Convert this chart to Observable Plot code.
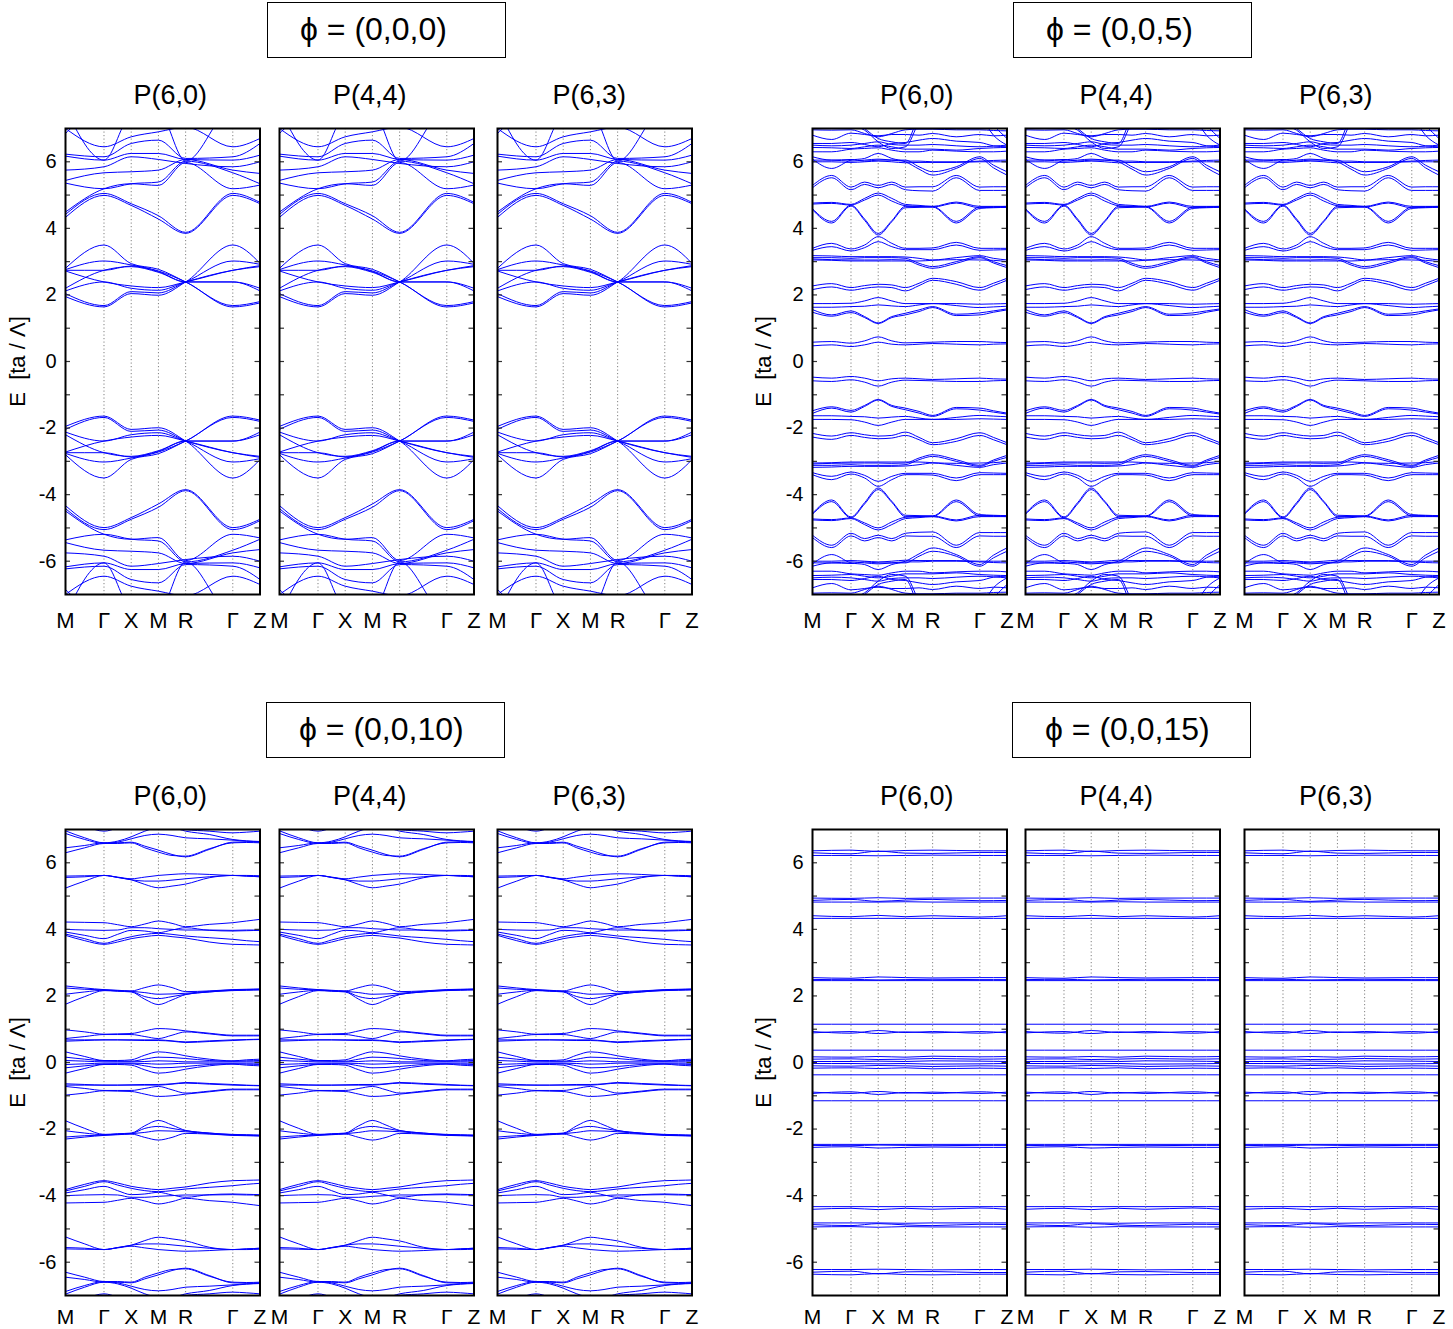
<!DOCTYPE html>
<html><head><meta charset="utf-8">
<script src="https://cdn.jsdelivr.net/npm/d3@7"></script>
<script src="https://cdn.jsdelivr.net/npm/@observablehq/plot@0.6"></script>
<style>
body{margin:0;background:#fff;font-family:"Liberation Sans",Arial,Helvetica,"DejaVu Sans",sans-serif;}
#root{position:relative;width:1453px;height:1329px;overflow:hidden;}
.box{position:absolute;border:1.5px solid #000;box-sizing:border-box;}
.lbl{position:absolute;white-space:nowrap;color:#000;line-height:1;}
svg{overflow:visible;}
</style></head><body><div id="root"></div>
<script>
// ---------- data ----------
const kPoints = [0, 1.414, 2.414, 3.414, 4.414, 6.146, 7.146];
const kGrid = [0, 0.707, 1.414, 1.914, 2.414, 2.914, 3.414, 3.914, 4.414, 5.28, 6.146, 6.646, 7.146];
const kLabels = ["M", "Γ", "X", "M", "R", "Γ", "Z"];
const yTickLabels = [-6, -4, -2, 0, 2, 4, 6];
const yTickMarks = [-6, -5, -4, -3, -2, -1, 0, 1, 2, 3, 4, 5, 6];
const panelNames = ["P(6,0)", "P(4,4)", "P(6,3)"];
const phiLabels = ["ϕ = (0,0,0)", "ϕ = (0,0,5)", "ϕ = (0,0,10)", "ϕ = (0,0,15)"];
const yLabel = "E\u00a0\u00a0[ta / Λ]";

// phi = (0,0,0): values at M, Γ, X, M, R, Γ, Z
const bandsPhi0 = [
  [2.80, 3.50, 2.94, 2.77, 2.39, 1.68, 1.80],
  [2.76, 3.02, 2.90, 2.72, 2.39, 1.64, 1.76],
  [2.74, 2.74, 2.87, 2.70, 2.39, 2.39, 2.20],
  [2.72, 2.39, 2.27, 2.22, 2.39, 2.74, 2.88],
  [2.20, 2.74, 2.85, 2.68, 2.39, 2.39, 2.12],
  [2.12, 2.39, 2.20, 2.14, 2.39, 2.74, 2.85],
  [2.04, 1.68, 2.10, 2.06, 2.39, 3.02, 2.92],
  [1.95, 1.64, 2.04, 1.99, 2.39, 3.50, 2.95],
  [-2.80, -3.50, -2.94, -2.77, -2.39, -1.68, -1.80],
  [-2.76, -3.02, -2.90, -2.72, -2.39, -1.64, -1.76],
  [-2.74, -2.74, -2.87, -2.70, -2.39, -2.39, -2.20],
  [-2.72, -2.39, -2.27, -2.22, -2.39, -2.74, -2.88],
  [-2.20, -2.74, -2.85, -2.68, -2.39, -2.39, -2.12],
  [-2.12, -2.39, -2.20, -2.14, -2.39, -2.74, -2.85],
  [-2.04, -1.68, -2.10, -2.06, -2.39, -3.02, -2.92],
  [-1.95, -1.64, -2.04, -1.99, -2.39, -3.50, -2.95],
  [4.33, 4.99, 4.69, 4.28, 3.85, 4.99, 4.74],
  [4.42, 5.05, 4.74, 4.38, 3.88, 5.05, 4.78],
  [4.49, 5.19, 5.34, 5.29, 5.98, 5.19, 5.30],
  [5.36, 5.19, 5.34, 5.39, 6.02, 5.67, 5.34],
  [5.44, 5.67, 5.70, 5.75, 6.07, 5.75, 5.65],
  [5.75, 5.85, 6.15, 6.07, 5.95, 5.85, 6.00],
  [6.17, 6.05, 6.25, 6.25, 6.07, 6.05, 6.20],
  [6.23, 6.15, 6.55, 6.65, 6.10, 6.15, 6.55],
  [7.00, 6.45, 6.75, 6.90, 7.04, 6.45, 6.70],
  [6.85, 7.60, 7.30, 7.20, 7.60, 7.60, 7.30],
  [7.60, 6.05, 7.40, 7.50, 6.02, 7.60, 7.40],
  [-4.33, -4.99, -4.69, -4.28, -3.85, -4.99, -4.74],
  [-4.42, -5.05, -4.74, -4.38, -3.88, -5.05, -4.78],
  [-4.49, -5.19, -5.34, -5.29, -5.98, -5.19, -5.30],
  [-5.36, -5.19, -5.34, -5.39, -6.02, -5.67, -5.34],
  [-5.44, -5.67, -5.70, -5.75, -6.07, -5.75, -5.65],
  [-5.75, -5.85, -6.15, -6.07, -5.95, -5.85, -6.00],
  [-6.17, -6.05, -6.25, -6.25, -6.07, -6.05, -6.20],
  [-6.23, -6.15, -6.55, -6.65, -6.10, -6.15, -6.55],
  [-7.00, -6.45, -6.75, -6.90, -7.04, -6.45, -6.70],
  [-6.85, -7.60, -7.30, -7.20, -7.60, -7.60, -7.30],
  [-7.60, -6.05, -7.40, -7.50, -6.02, -7.60, -7.40]
];

// phi = (0,0,5): values at M, ., Γ, ., X, ., M, ., R, ., Γ, ., Z
const bandsPhi5 = [
  [0.58, 0.60, 0.55, 0.62, 0.74, 0.62, 0.56, 0.57, 0.58, 0.60, 0.60, 0.58, 0.57],
  [0.47, 0.50, 0.45, 0.50, 0.58, 0.52, 0.50, 0.52, 0.54, 0.52, 0.50, 0.52, 0.53],
  [1.74, 1.74, 1.75, 1.82, 1.92, 1.82, 1.74, 1.74, 1.74, 1.74, 1.72, 1.73, 1.74],
  [1.63, 1.63, 1.65, 1.66, 1.70, 1.67, 1.65, 1.70, 1.74, 1.68, 1.62, 1.64, 1.66],
  [1.56, 1.40, 1.52, 1.35, 1.16, 1.35, 1.45, 1.55, 1.65, 1.42, 1.46, 1.52, 1.58],
  [1.48, 1.36, 1.47, 1.32, 1.14, 1.32, 1.40, 1.50, 1.62, 1.38, 1.40, 1.48, 1.55],
  [2.27, 2.34, 2.22, 2.28, 2.32, 2.30, 2.22, 2.35, 2.50, 2.40, 2.22, 2.35, 2.50],
  [2.16, 2.24, 2.14, 2.20, 2.24, 2.22, 2.12, 2.28, 2.44, 2.32, 2.14, 2.28, 2.44],
  [3.40, 3.55, 3.38, 3.50, 3.75, 3.55, 3.40, 3.40, 3.41, 3.58, 3.40, 3.40, 3.40],
  [3.34, 3.45, 3.32, 3.42, 3.60, 3.45, 3.36, 3.36, 3.36, 3.50, 3.34, 3.35, 3.36],
  [3.18, 3.17, 3.15, 3.15, 3.15, 3.15, 3.14, 3.10, 3.05, 3.12, 3.18, 3.10, 3.05],
  [3.12, 3.12, 3.10, 3.12, 3.12, 3.12, 3.10, 2.95, 2.85, 3.00, 3.15, 3.00, 2.88],
  [3.08, 3.06, 3.05, 3.05, 3.05, 3.06, 3.05, 2.90, 2.80, 2.95, 3.12, 2.96, 2.82],
  [3.05, 3.04, 3.02, 3.02, 3.02, 3.02, 3.02, 3.02, 3.04, 3.06, 3.05, 3.04, 3.00],
  [4.76, 4.78, 4.72, 4.90, 5.06, 4.90, 4.72, 4.69, 4.66, 4.79, 4.66, 4.66, 4.66],
  [4.73, 4.75, 4.70, 4.85, 5.00, 4.82, 4.68, 4.66, 4.64, 4.76, 4.62, 4.63, 4.64],
  [4.59, 4.21, 4.70, 4.28, 3.85, 4.23, 4.66, 4.66, 4.66, 4.21, 4.64, 4.65, 4.66],
  [4.56, 4.16, 4.67, 4.24, 3.80, 4.20, 4.62, 4.63, 4.64, 4.16, 4.60, 4.62, 4.63],
  [5.29, 5.59, 5.24, 5.39, 5.29, 5.39, 5.24, 5.25, 5.25, 5.59, 5.24, 5.25, 5.25],
  [5.22, 5.52, 5.16, 5.32, 5.22, 5.32, 5.16, 5.13, 5.12, 5.52, 5.14, 5.14, 5.14],
  [6.15, 6.05, 6.07, 6.02, 6.05, 6.05, 6.05, 5.85, 5.70, 5.85, 6.15, 5.90, 5.70],
  [6.08, 5.80, 6.05, 6.10, 6.25, 6.10, 6.00, 5.78, 5.60, 5.80, 6.10, 5.82, 5.60],
  [6.05, 6.05, 6.02, 6.05, 6.08, 6.05, 6.02, 6.02, 6.00, 6.00, 6.02, 6.04, 6.05],
  [6.00, 6.00, 5.98, 6.00, 6.02, 6.00, 5.97, 5.98, 5.98, 5.98, 6.00, 6.00, 6.00],
  [6.96, 6.95, 6.96, 6.85, 6.75, 6.85, 6.96, 6.98, 6.98, 6.96, 6.96, 6.94, 6.93],
  [6.80, 6.67, 6.86, 6.82, 6.78, 6.82, 6.82, 6.80, 6.85, 6.75, 6.82, 6.78, 6.80],
  [6.55, 6.55, 6.58, 6.52, 6.45, 6.55, 6.58, 6.65, 6.70, 6.62, 6.58, 6.48, 6.45],
  [6.50, 6.48, 6.50, 6.55, 6.60, 6.52, 6.50, 6.50, 6.52, 6.48, 6.45, 6.47, 6.50],
  [6.43, 6.42, 6.40, 6.45, 6.50, 6.45, 6.38, 6.38, 6.38, 6.35, 6.40, 6.42, 6.43],
  [6.30, 6.30, 6.38, 6.40, 6.42, 6.35, 6.30, 6.30, 6.35, 6.32, 6.30, 6.30, 6.32],
  [7.40, 7.30, 7.10, 6.95, 6.60, 6.40, 6.45, 7.20, 7.80, 7.80, 7.40, 6.80, 6.50],
  [7.60, 7.50, 7.30, 7.00, 6.70, 6.60, 6.55, 7.40, 7.90, 7.90, 7.60, 7.10, 6.70],
  [-0.58, -0.60, -0.55, -0.62, -0.74, -0.62, -0.56, -0.57, -0.58, -0.60, -0.60, -0.58, -0.57],
  [-0.47, -0.50, -0.45, -0.50, -0.58, -0.52, -0.50, -0.52, -0.54, -0.52, -0.50, -0.52, -0.53],
  [-1.74, -1.74, -1.75, -1.82, -1.92, -1.82, -1.74, -1.74, -1.74, -1.74, -1.72, -1.73, -1.74],
  [-1.63, -1.63, -1.65, -1.66, -1.70, -1.67, -1.65, -1.70, -1.74, -1.68, -1.62, -1.64, -1.66],
  [-1.56, -1.40, -1.52, -1.35, -1.16, -1.35, -1.45, -1.55, -1.65, -1.42, -1.46, -1.52, -1.58],
  [-1.48, -1.36, -1.47, -1.32, -1.14, -1.32, -1.40, -1.50, -1.62, -1.38, -1.40, -1.48, -1.55],
  [-2.27, -2.34, -2.22, -2.28, -2.32, -2.30, -2.22, -2.35, -2.50, -2.40, -2.22, -2.35, -2.50],
  [-2.16, -2.24, -2.14, -2.20, -2.24, -2.22, -2.12, -2.28, -2.44, -2.32, -2.14, -2.28, -2.44],
  [-3.40, -3.55, -3.38, -3.50, -3.75, -3.55, -3.40, -3.40, -3.41, -3.58, -3.40, -3.40, -3.40],
  [-3.34, -3.45, -3.32, -3.42, -3.60, -3.45, -3.36, -3.36, -3.36, -3.50, -3.34, -3.35, -3.36],
  [-3.18, -3.17, -3.15, -3.15, -3.15, -3.15, -3.14, -3.10, -3.05, -3.12, -3.18, -3.10, -3.05],
  [-3.12, -3.12, -3.10, -3.12, -3.12, -3.12, -3.10, -2.95, -2.85, -3.00, -3.15, -3.00, -2.88],
  [-3.08, -3.06, -3.05, -3.05, -3.05, -3.06, -3.05, -2.90, -2.80, -2.95, -3.12, -2.96, -2.82],
  [-3.05, -3.04, -3.02, -3.02, -3.02, -3.02, -3.02, -3.02, -3.04, -3.06, -3.05, -3.04, -3.00],
  [-4.76, -4.78, -4.72, -4.90, -5.06, -4.90, -4.72, -4.69, -4.66, -4.79, -4.66, -4.66, -4.66],
  [-4.73, -4.75, -4.70, -4.85, -5.00, -4.82, -4.68, -4.66, -4.64, -4.76, -4.62, -4.63, -4.64],
  [-4.59, -4.21, -4.70, -4.28, -3.85, -4.23, -4.66, -4.66, -4.66, -4.21, -4.64, -4.65, -4.66],
  [-4.56, -4.16, -4.67, -4.24, -3.80, -4.20, -4.62, -4.63, -4.64, -4.16, -4.60, -4.62, -4.63],
  [-5.29, -5.59, -5.24, -5.39, -5.29, -5.39, -5.24, -5.25, -5.25, -5.59, -5.24, -5.25, -5.25],
  [-5.22, -5.52, -5.16, -5.32, -5.22, -5.32, -5.16, -5.13, -5.12, -5.52, -5.14, -5.14, -5.14],
  [-6.15, -6.05, -6.07, -6.02, -6.05, -6.05, -6.05, -5.85, -5.70, -5.85, -6.15, -5.90, -5.70],
  [-6.08, -5.80, -6.05, -6.10, -6.25, -6.10, -6.00, -5.78, -5.60, -5.80, -6.10, -5.82, -5.60],
  [-6.05, -6.05, -6.02, -6.05, -6.08, -6.05, -6.02, -6.02, -6.00, -6.00, -6.02, -6.04, -6.05],
  [-6.00, -6.00, -5.98, -6.00, -6.02, -6.00, -5.97, -5.98, -5.98, -5.98, -6.00, -6.00, -6.00],
  [-6.96, -6.95, -6.96, -6.85, -6.75, -6.85, -6.96, -6.98, -6.98, -6.96, -6.96, -6.94, -6.93],
  [-6.80, -6.67, -6.86, -6.82, -6.78, -6.82, -6.82, -6.80, -6.85, -6.75, -6.82, -6.78, -6.80],
  [-6.55, -6.55, -6.58, -6.52, -6.45, -6.55, -6.58, -6.65, -6.70, -6.62, -6.58, -6.48, -6.45],
  [-6.50, -6.48, -6.50, -6.55, -6.60, -6.52, -6.50, -6.50, -6.52, -6.48, -6.45, -6.47, -6.50],
  [-6.43, -6.42, -6.40, -6.45, -6.50, -6.45, -6.38, -6.38, -6.38, -6.35, -6.40, -6.42, -6.43],
  [-6.30, -6.30, -6.38, -6.40, -6.42, -6.35, -6.30, -6.30, -6.35, -6.32, -6.30, -6.30, -6.32],
  [-7.40, -7.30, -7.10, -6.95, -6.60, -6.40, -6.45, -7.20, -7.80, -7.80, -7.40, -6.80, -6.50],
  [-7.60, -7.50, -7.30, -7.00, -6.70, -6.60, -6.55, -7.40, -7.90, -7.90, -7.60, -7.10, -6.70]
];

// phi = (0,0,10): values at M, ., Γ, ., X, ., M, ., R, ., Γ, ., Z
const bandsPhi10 = [
  [6.96, 6.75, 6.60, 6.65, 6.78, 6.95, 7.05, 7.05, 6.95, 6.85, 6.70, 6.66, 6.64],
  [6.88, 6.70, 6.58, 6.62, 6.72, 6.82, 6.86, 6.82, 6.75, 6.72, 6.68, 6.65, 6.63],
  [6.45, 6.52, 6.60, 6.60, 6.62, 6.50, 6.38, 6.25, 6.18, 6.40, 6.62, 6.63, 6.62],
  [6.30, 6.45, 6.58, 6.58, 6.60, 6.45, 6.32, 6.22, 6.20, 6.42, 6.60, 6.61, 6.60],
  [7.30, 7.10, 6.95, 7.05, 7.20, 7.30, 7.20, 7.10, 7.00, 6.95, 6.90, 6.92, 6.95],
  [5.60, 5.61, 5.62, 5.57, 5.52, 5.57, 5.62, 5.65, 5.67, 5.65, 5.62, 5.62, 5.61],
  [5.56, 5.58, 5.62, 5.56, 5.49, 5.45, 5.45, 5.48, 5.52, 5.58, 5.62, 5.60, 5.58],
  [5.24, 5.45, 5.62, 5.56, 5.49, 5.35, 5.25, 5.30, 5.36, 5.55, 5.62, 5.60, 5.58],
  [4.22, 4.21, 4.20, 4.14, 4.08, 4.16, 4.25, 4.18, 4.08, 4.15, 4.20, 4.25, 4.30],
  [4.00, 3.98, 3.97, 3.98, 4.05, 4.05, 4.02, 4.00, 3.98, 3.98, 3.97, 3.98, 3.98],
  [3.92, 3.82, 3.72, 3.85, 3.97, 3.95, 3.90, 3.98, 4.05, 3.97, 3.95, 3.96, 3.97],
  [3.86, 3.72, 3.58, 3.68, 3.78, 3.85, 3.88, 3.85, 3.80, 3.75, 3.70, 3.66, 3.63],
  [3.82, 3.66, 3.55, 3.62, 3.72, 3.78, 3.82, 3.78, 3.74, 3.62, 3.55, 3.54, 3.53],
  [2.30, 2.24, 2.19, 2.17, 2.15, 2.25, 2.33, 2.25, 2.13, 2.15, 2.19, 2.20, 2.21],
  [2.24, 2.20, 2.18, 2.16, 2.14, 2.10, 2.05, 2.06, 2.08, 2.14, 2.18, 2.19, 2.20],
  [2.05, 2.12, 2.17, 2.15, 2.13, 1.98, 1.92, 1.98, 2.05, 2.12, 2.17, 2.18, 2.19],
  [1.75, 1.98, 2.16, 2.14, 2.12, 1.90, 1.74, 1.88, 2.04, 2.12, 2.16, 2.17, 2.18],
  [0.98, 0.92, 0.85, 0.86, 0.87, 0.95, 1.02, 1.00, 0.95, 0.88, 0.82, 0.82, 0.82],
  [0.72, 0.78, 0.84, 0.84, 0.84, 0.78, 0.72, 0.82, 0.92, 0.86, 0.80, 0.80, 0.80],
  [0.68, 0.68, 0.68, 0.68, 0.68, 0.68, 0.68, 0.65, 0.62, 0.65, 0.68, 0.69, 0.70],
  [0.64, 0.66, 0.68, 0.68, 0.67, 0.66, 0.66, 0.64, 0.60, 0.63, 0.66, 0.68, 0.69],
  [0.32, 0.18, 0.06, 0.06, 0.08, 0.22, 0.32, 0.28, 0.20, 0.10, 0.05, 0.08, 0.10],
  [0.16, 0.10, 0.05, 0.04, 0.04, 0.10, 0.16, 0.15, 0.12, 0.06, 0.04, 0.05, 0.06],
  [0.06, 0.04, 0.02, 0.02, 0.02, 0.03, 0.05, 0.04, 0.02, 0.02, 0.02, 0.02, 0.02],
  [-6.96, -6.75, -6.60, -6.65, -6.78, -6.95, -7.05, -7.05, -6.95, -6.85, -6.70, -6.66, -6.64],
  [-6.88, -6.70, -6.58, -6.62, -6.72, -6.82, -6.86, -6.82, -6.75, -6.72, -6.68, -6.65, -6.63],
  [-6.45, -6.52, -6.60, -6.60, -6.62, -6.50, -6.38, -6.25, -6.18, -6.40, -6.62, -6.63, -6.62],
  [-6.30, -6.45, -6.58, -6.58, -6.60, -6.45, -6.32, -6.22, -6.20, -6.42, -6.60, -6.61, -6.60],
  [-7.30, -7.10, -6.95, -7.05, -7.20, -7.30, -7.20, -7.10, -7.00, -6.95, -6.90, -6.92, -6.95],
  [-5.60, -5.61, -5.62, -5.57, -5.52, -5.57, -5.62, -5.65, -5.67, -5.65, -5.62, -5.62, -5.61],
  [-5.56, -5.58, -5.62, -5.56, -5.49, -5.45, -5.45, -5.48, -5.52, -5.58, -5.62, -5.60, -5.58],
  [-5.24, -5.45, -5.62, -5.56, -5.49, -5.35, -5.25, -5.30, -5.36, -5.55, -5.62, -5.60, -5.58],
  [-4.22, -4.21, -4.20, -4.14, -4.08, -4.16, -4.25, -4.18, -4.08, -4.15, -4.20, -4.25, -4.30],
  [-4.00, -3.98, -3.97, -3.98, -4.05, -4.05, -4.02, -4.00, -3.98, -3.98, -3.97, -3.98, -3.98],
  [-3.92, -3.82, -3.72, -3.85, -3.97, -3.95, -3.90, -3.98, -4.05, -3.97, -3.95, -3.96, -3.97],
  [-3.86, -3.72, -3.58, -3.68, -3.78, -3.85, -3.88, -3.85, -3.80, -3.75, -3.70, -3.66, -3.63],
  [-3.82, -3.66, -3.55, -3.62, -3.72, -3.78, -3.82, -3.78, -3.74, -3.62, -3.55, -3.54, -3.53],
  [-2.30, -2.24, -2.19, -2.17, -2.15, -2.25, -2.33, -2.25, -2.13, -2.15, -2.19, -2.20, -2.21],
  [-2.24, -2.20, -2.18, -2.16, -2.14, -2.10, -2.05, -2.06, -2.08, -2.14, -2.18, -2.19, -2.20],
  [-2.05, -2.12, -2.17, -2.15, -2.13, -1.98, -1.92, -1.98, -2.05, -2.12, -2.17, -2.18, -2.19],
  [-1.75, -1.98, -2.16, -2.14, -2.12, -1.90, -1.74, -1.88, -2.04, -2.12, -2.16, -2.17, -2.18],
  [-0.98, -0.92, -0.85, -0.86, -0.87, -0.95, -1.02, -1.00, -0.95, -0.88, -0.82, -0.82, -0.82],
  [-0.72, -0.78, -0.84, -0.84, -0.84, -0.78, -0.72, -0.82, -0.92, -0.86, -0.80, -0.80, -0.80],
  [-0.68, -0.68, -0.68, -0.68, -0.68, -0.68, -0.68, -0.65, -0.62, -0.65, -0.68, -0.69, -0.70],
  [-0.64, -0.66, -0.68, -0.68, -0.67, -0.66, -0.66, -0.64, -0.60, -0.63, -0.66, -0.68, -0.69],
  [-0.32, -0.18, -0.06, -0.06, -0.08, -0.22, -0.32, -0.28, -0.20, -0.10, -0.05, -0.08, -0.10],
  [-0.16, -0.10, -0.05, -0.04, -0.04, -0.10, -0.16, -0.15, -0.12, -0.06, -0.04, -0.05, -0.06],
  [-0.06, -0.04, -0.02, -0.02, -0.02, -0.03, -0.05, -0.04, -0.02, -0.02, -0.02, -0.02, -0.02]
];

// phi = (0,0,15): values at M, Γ, X, M, R, Γ, Z
const bandsPhi15 = [
  [6.36, 6.38, 6.34, 6.37, 6.38, 6.36, 6.36],
  [6.30, 6.27, 6.35, 6.29, 6.28, 6.31, 6.31],
  [6.22, 6.22, 6.21, 6.22, 6.23, 6.22, 6.22],
  [4.94, 4.93, 4.95, 4.93, 4.94, 4.94, 4.94],
  [4.87, 4.90, 4.84, 4.88, 4.90, 4.86, 4.87],
  [4.82, 4.82, 4.82, 4.83, 4.82, 4.82, 4.82],
  [4.41, 4.38, 4.42, 4.38, 4.41, 4.37, 4.41],
  [4.33, 4.33, 4.33, 4.33, 4.33, 4.33, 4.33],
  [2.55, 2.53, 2.57, 2.55, 2.54, 2.55, 2.55],
  [2.49, 2.50, 2.48, 2.49, 2.50, 2.49, 2.49],
  [2.46, 2.46, 2.46, 2.46, 2.46, 2.46, 2.46],
  [1.15, 1.15, 1.15, 1.15, 1.15, 1.15, 1.15],
  [0.93, 0.88, 0.96, 0.90, 0.93, 0.88, 0.93],
  [0.89, 0.93, 0.87, 0.92, 0.89, 0.93, 0.89],
  [0.37, 0.37, 0.37, 0.37, 0.37, 0.37, 0.37],
  [0.17, 0.16, 0.18, 0.16, 0.19, 0.17, 0.18],
  [0.10, 0.11, 0.09, 0.10, 0.12, 0.10, 0.11],
  [0.03, 0.03, 0.04, 0.03, 0.05, 0.04, 0.03],
  [-6.36, -6.38, -6.34, -6.37, -6.38, -6.36, -6.36],
  [-6.30, -6.27, -6.35, -6.29, -6.28, -6.31, -6.31],
  [-6.22, -6.22, -6.21, -6.22, -6.23, -6.22, -6.22],
  [-4.94, -4.93, -4.95, -4.93, -4.94, -4.94, -4.94],
  [-4.87, -4.90, -4.84, -4.88, -4.90, -4.86, -4.87],
  [-4.82, -4.82, -4.82, -4.83, -4.82, -4.82, -4.82],
  [-4.41, -4.38, -4.42, -4.38, -4.41, -4.37, -4.41],
  [-4.33, -4.33, -4.33, -4.33, -4.33, -4.33, -4.33],
  [-2.55, -2.53, -2.57, -2.55, -2.54, -2.55, -2.55],
  [-2.49, -2.50, -2.48, -2.49, -2.50, -2.49, -2.49],
  [-2.46, -2.46, -2.46, -2.46, -2.46, -2.46, -2.46],
  [-1.15, -1.15, -1.15, -1.15, -1.15, -1.15, -1.15],
  [-0.93, -0.88, -0.96, -0.90, -0.93, -0.88, -0.93],
  [-0.89, -0.93, -0.87, -0.92, -0.89, -0.93, -0.89],
  [-0.37, -0.37, -0.37, -0.37, -0.37, -0.37, -0.37],
  [-0.17, -0.16, -0.18, -0.16, -0.19, -0.17, -0.18],
  [-0.10, -0.11, -0.09, -0.10, -0.12, -0.10, -0.11],
  [-0.03, -0.03, -0.04, -0.03, -0.05, -0.04, -0.03]
];

// ---------- layout ----------
const PW = 194.5, PH = 466;
const FONT = '"Liberation Sans", Arial, Helvetica, "DejaVu Sans", sans-serif';
const quads = [
  {bands: bandsPhi0,  lefts: [65, 278.5, 497],      top: 128,   box: [267, 2, 239, 56],    yLab: 17,  pad: 18},
  {bands: bandsPhi5,  lefts: [811.5, 1025, 1243.5], top: 128,   box: [1013, 2, 239, 56],   yLab: 763, pad: 18},
  {bands: bandsPhi10, lefts: [65, 278.5, 497],      top: 828.5, box: [266, 702, 239, 56],  yLab: 17,  pad: 14},
  {bands: bandsPhi15, lefts: [811.5, 1025, 1243.5], top: 828.5, box: [1012, 702, 239, 56], yLab: 763, pad: 14}
];
const titleDx = [8, -6, -5];
const root = document.getElementById("root");

function rowsOf(bands) {
  const rows = [];
  bands.forEach((b, i) => {
    const ks = b.length === kPoints.length ? kPoints : kGrid;
    b.forEach((e, j) => rows.push({band: i, k: ks[j], e}));
  });
  return rows;
}

function addLabel(text, x, y, size, anchor) {
  const d = document.createElement("div");
  d.className = "lbl";
  d.textContent = text;
  d.style.fontSize = size + "px";
  d.style.left = x + "px";
  d.style.top = y + "px";
  d.style.transform = anchor === "middle" ? "translate(-50%,-50%)" : "translate(0,-50%)";
  root.appendChild(d);
}

quads.forEach((q, qi) => {
  const rows = rowsOf(q.bands);
  const bx = document.createElement("div");
  bx.className = "box";
  Object.assign(bx.style, {left: q.box[0] + "px", top: q.box[1] + "px", width: q.box[2] + "px", height: q.box[3] + "px"});
  root.appendChild(bx);
  addLabel(phiLabels[qi], q.box[0] + 33, q.box[1] + q.box[3] / 2 - 1, 32, "start");

  q.lefts.forEach((left, pi) => {
    const first = pi === 0;
    const mL = first ? 80 : 25, mR = 25, mT = 6, mB = 40;
    const plot = Plot.plot({
      width: PW + mL + mR, height: PH + mT + mB,
      marginLeft: mL, marginRight: mR, marginTop: mT, marginBottom: mB,
      x: {domain: [0, kPoints[kPoints.length - 1]]},
      y: {domain: [-7, 7]},
      style: {background: "transparent", overflow: "visible", fontFamily: FONT, color: "#000"},
      marks: [
        Plot.ruleX(kPoints.slice(1, -1), {stroke: "#808080", strokeWidth: 1, strokeDasharray: "1.2,2.3"}),
        Plot.line(rows, {x: "k", y: "e", z: "band", stroke: "#0000ff", strokeWidth: 1, curve: "monotone-x", clip: true}),
        Plot.tickY(yTickMarks, {y: d => d, insetRight: PW - 5, stroke: "#333", strokeWidth: 1.2}),
        Plot.tickY(yTickMarks, {y: d => d, insetLeft: PW - 5, stroke: "#333", strokeWidth: 1.2}),
        Plot.frame({stroke: "#000", strokeWidth: 2}),
        Plot.axisX(kPoints, {tickSize: 0, tickPadding: q.pad, fontSize: qi >= 2 ? 21 : 22, tickFormat: d => kLabels[kPoints.indexOf(d)], label: null}),
        first
          ? Plot.axisY(yTickLabels, {tickSize: 0, tickPadding: 9, fontSize: 20, tickFormat: d => String(d), label: null})
          : Plot.axisY([], {label: null}),
        first ? Plot.text([yLabel], {text: d => d, frameAnchor: "left", textAnchor: "middle", rotate: -90, dx: q.yLab - left, fontSize: 22}) : null
      ]
    });
    plot.style.position = "absolute";
    plot.style.left = (left - mL) + "px";
    plot.style.top = (q.top - mT) + "px";
    root.appendChild(plot);
    addLabel(panelNames[pi], left + PW / 2 + titleDx[pi], q.top - 33, 27, "middle");
  });
});
</script></body></html>
